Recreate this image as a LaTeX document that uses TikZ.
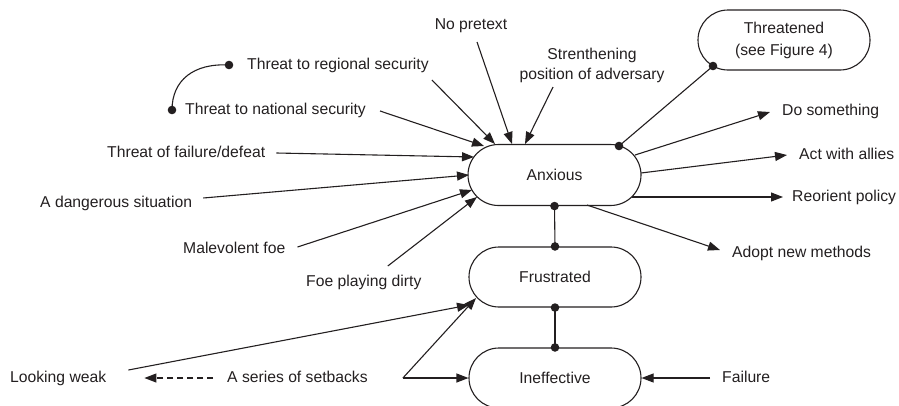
\documentclass[tikz,border=0pt]{standalone}
\usepackage{fontspec}
\setmainfont{Liberation Sans}
\usetikzlibrary{arrows.meta,shapes.misc,calc}
\definecolor{ink}{RGB}{35,31,32}
\begin{document}
\begin{tikzpicture}[x=1pt,y=-1pt,
  every node/.style={text=ink, font=\fontsize{15.7}{20}\selectfont},
  lbl/.style={inner sep=0pt, text height=11.5pt, text depth=3.5pt},
  state/.style={rounded rectangle, draw=ink, line width=1.1pt,
    minimum width=172pt, minimum height=60pt, inner sep=0pt},
  link/.style={draw=ink, line width=1.1pt},
  arr/.style={link, -{Triangle[length=12pt,width=9pt]}},
  blob/.style={fill=ink}]

\useasboundingbox (0,0) rectangle (899,405);

% emotional states
\node[state, minimum width=173pt, minimum height=61pt] (anx) at (554.5,175) {Anxious};
\node[state] (fru) at (555,277) {Frustrated};
\node[state] (ine) at (555,378) {Ineffective};
\node[state, align=center, font=\fontsize{15.7}{22}\selectfont] (thr) at (784,40)
  {Threatened\\(see Figure 4)};

% causes
\node[lbl, anchor=west] (reg) at (247,65) {Threat to regional security};
\node[lbl, anchor=west] (nat) at (185,110) {Threat to national security};
\node[lbl, anchor=west] (tfd) at (107,153) {Threat of failure/defeat};
\node[lbl, anchor=west] (dang) at (40,203) {A dangerous situation};
\node[lbl, anchor=west] (malev) at (183,249) {Malevolent foe};
\node[lbl, anchor=west] (dirty) at (306,282) {Foe playing dirty};
\node[lbl] (nopre) at (471,25) {No pretext};
\node[inner sep=0pt, align=center] (stren) at (592,65)
  {Strenthening\\position of adversary};

% responses
\node[lbl, anchor=west] (dosth) at (782,111) {Do something};
\node[lbl, anchor=west] (allies) at (799,155) {Act with allies};
\node[lbl, anchor=west] (reor) at (792,197) {Reorient policy};
\node[lbl, anchor=west] (adopt) at (732,253) {Adopt new methods};

% lower part
\node[lbl, anchor=west] (weak) at (10,378) {Looking weak};
\node[lbl, anchor=west] (setb) at (227,378) {A series of setbacks};
\node[lbl, anchor=west] (fail) at (722,378) {Failure};

% end points of the dotted links
\coordinate (regdot) at ([xshift=-18pt]reg.west);
\coordinate (natdot) at ([xshift=-13pt]nat.west);
\coordinate (thrdot) at ([shift={(-71,26)}]thr.center);
\coordinate (anxthr) at ([shift={(64.5,-29)}]anx.center);

% link between the two security threats
\draw[link] (regdot) .. controls +(-35,-2) and +(0,-30) .. (natdot);

% arrows into Anxious
\draw[arr] ([shift={(14,1)}]nat.east) -- ([shift={(-70.5,-29)}]anx.center);
\draw[arr] ([shift={(3,15)}]reg.east) -- ([shift={(-59.5,-31)}]anx.center);
\draw[arr] ([shift={(6,17)}]nopre.center) -- ([shift={(-42.5,-31)}]anx.center);
\draw[arr] ([shift={(-39,22)}]stren.center) -- ([shift={(-29.5,-31)}]anx.center);
\draw[arr] ([xshift=11pt]tfd.east) -- ([shift={(-80.5,-18)}]anx.center);
\draw[arr] ([shift={(11,-5)}]dang.east) -- ([shift={(-85.5,0)}]anx.center);
\draw[arr] ([shift={(12,-2)}]malev.east) -- ([shift={(-82.5,15)}]anx.center);
\draw[arr] ([shift={(24,-16)}]dirty.center) -- ([shift={(-77.5,22)}]anx.center);

% arrows out of Anxious
\draw[link] (thrdot) -- (anxthr);
\draw[arr] ([shift={(80.5,-20)}]anx.center) -- ([shift={(-12,1)}]dosth.west);
\draw[arr] ([shift={(86.5,-2)}]anx.center) -- ([xshift=-12pt]allies.west);
\draw[arr] ([shift={(77.5,22)}]anx.center) -- ([xshift=-9pt]reor.west);
\draw[arr] ([shift={(32.5,30)}]anx.center) -- ([shift={(-12,-3)}]adopt.west);

% chain of states
\draw[link] (anx.south) -- (fru.north);
\draw[link] (fru.south) -- (ine.north);

% setbacks and failure
\coordinate (apex) at ([xshift=35pt]setb.east);
\draw[arr] ([shift={(22,-8)}]weak.east) -- ([shift={(-86,28)}]fru.center);
\draw[arr] (apex) -- ([shift={(-79,21)}]fru.center);
\draw[arr] (apex) -- (ine.west);
\draw[arr, dash pattern=on 6pt off 4pt] ([xshift=-14pt]setb.west) -- ([xshift=38pt]weak.east);
\draw[arr] ([xshift=-12pt]fail.west) -- (ine.east);

% junction dots
\foreach \p in {regdot, natdot, thrdot, anxthr, anx.south, fru.north, fru.south, ine.north}
  \fill[blob] (\p) circle[radius=4.3pt];

\end{tikzpicture}
\end{document}
